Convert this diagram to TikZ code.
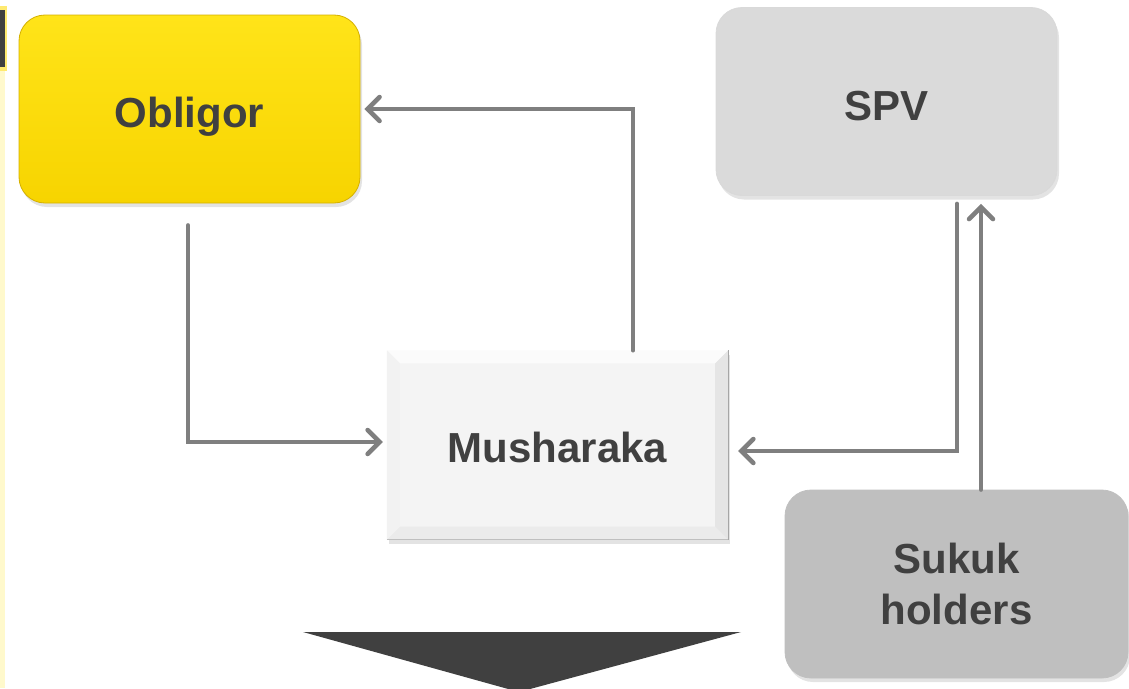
\documentclass[tikz,border=0pt]{standalone}
\usepackage{fontspec}
\setmainfont{Liberation Sans}
\usetikzlibrary{arrows.meta,calc,shadows}
\definecolor{txt}{HTML}{404040}
\definecolor{conncol}{HTML}{7F7F7F}
\definecolor{yeltop}{HTML}{FFE419}
\definecolor{yelbot}{HTML}{F7D400}
\definecolor{yeledge}{HTML}{D4B000}
\definecolor{spvfill}{HTML}{DADADA}
\definecolor{sukfill}{HTML}{BFBFBF}
\definecolor{mushfill}{HTML}{F4F4F4}
\definecolor{paleyel}{HTML}{FFF9CC}
\definecolor{stripyel}{HTML}{FFEA70}
\definecolor{dark}{HTML}{404040}
\tikzset{
  boxtext/.style={font=\bfseries\fontsize{42}{51}\selectfont, text=txt, align=center},
  onerow/.style={text height=30pt, text depth=0pt},
  roundbox/.style={boxtext, rounded corners=26pt, minimum width=341pt, minimum height=188pt, inner sep=0pt,
    drop shadow={opacity=0.22, shadow xshift=2pt, shadow yshift=-4pt}},
  conn/.style={draw=conncol, line width=4.5pt, line cap=round, line join=miter,
    -{Straight Barb[length=12pt,width=24pt,line cap=round]}},
}
\begin{document}
\begin{tikzpicture}[x=1pt,y=-1pt]
\useasboundingbox (0,0) rectangle (1129,688);
% left strip
\fill[stripyel] (0,6) rectangle (7,71);
\fill[dark] (0,10) rectangle (4.5,67);
\fill[paleyel] (0,71) rectangle (5,688);
% boxes
\node[roundbox, onerow, top color=yeltop, bottom color=yelbot, draw=yeledge, line width=0.8pt] (oblig) at (189.5,109) {\raisebox{-3pt}{Obligor}};
\node[roundbox, onerow, fill=spvfill, draw=white!70!gray, line width=0.8pt] (spv) at (886.5,101.5) {\raisebox{-3.5pt}{SPV}};
\node[roundbox, fill=sukfill, draw=white!50!gray, line width=0.8pt, minimum width=343pt] (suk) at (956.5,584) {Sukuk\\holders};
\node[boxtext, minimum width=341pt, minimum height=189pt, inner sep=0pt, fill=mushfill,
  drop shadow={opacity=0.22, shadow xshift=2pt, shadow yshift=-4pt}] (mush) at (557.5,445) {};
% bevel of Musharaka
\fill[white!60!mushfill] (mush.north west) -- (mush.north east) -- ($(mush.north east)+(-13,13)$) -- ($(mush.north west)+(13,13)$) -- cycle;
\fill[black!8] (mush.south west) -- (mush.south east) -- ($(mush.south east)+(-13,-13)$) -- ($(mush.south west)+(13,-13)$) -- cycle;
\fill[black!10] (mush.north east) -- (mush.south east) -- ($(mush.south east)+(-13,-13)$) -- ($(mush.north east)+(-13,13)$) -- cycle;
\fill[black!5] (mush.north west) -- (mush.south west) -- ($(mush.south west)+(13,-13)$) -- ($(mush.north west)+(13,13)$) -- cycle;
\draw[black!35, line width=1.2pt] (mush.north east) -- (mush.south east);
\draw[black!25, line width=1pt] (mush.south west) -- (mush.south east);
\node[boxtext, onerow] (mushlabel) at ([yshift=-2pt]mush.center) {Musharaka};
% connectors
\draw[conn, shorten >=4pt] ([xshift=75.5pt]mush.north) |- (oblig.east);
\draw[conn, shorten >=4pt] ([yshift=-22pt, xshift=-1.5pt]oblig.south) |- ([yshift=3pt]mush.west);
\draw[conn, shorten >=10pt] ([xshift=70.5pt, yshift=-8pt]spv.south) |- ([yshift=-6pt]mush.east);
\draw[conn, shorten >=8pt] ([xshift=24.5pt]suk.north) -- ([xshift=94.5pt]spv.south);
% down triangle
\fill[dark] (303,632) -- (741,632) -- (519,692) -- cycle;
\end{tikzpicture}
\end{document}
